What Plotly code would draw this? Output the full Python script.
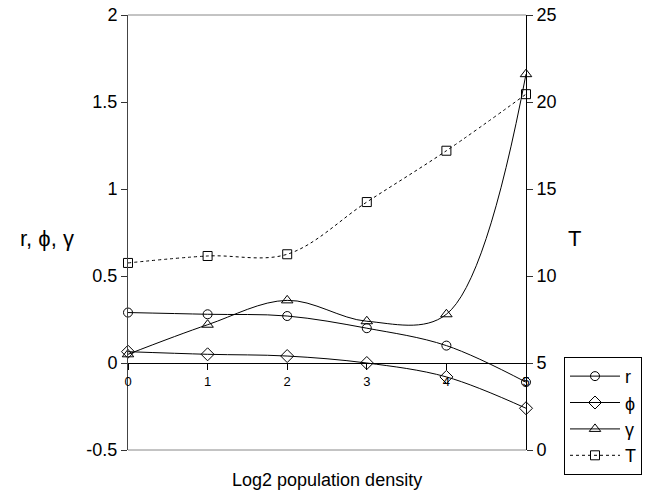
import plotly.graph_objects as go

x_vals = [0, 1, 2, 3, 4, 5]
r_vals = [0.29, 0.28, 0.27, 0.20, 0.10, -0.11]
phi_vals = [0.065, 0.05, 0.04, 0.0, -0.08, -0.26]
gamma_vals = [0.05, 0.22, 0.36, 0.24, 0.28, 1.66]
T_vals = [10.75, 11.15, 11.25, 14.25, 17.2, 20.45]

y_left_ticks = [-0.5, 0, 0.5, 1, 1.5, 2]
y_left_text = ["-0.5", "0", "0.5", "1", "1.5", "2"]
y_right_ticks = [0, 5, 10, 15, 20, 25]
x_ticks = [0, 1, 2, 3, 4, 5]

FONT = "Liberation Sans, Arial, sans-serif"
line = dict(color="black", width=1, shape="spline", smoothing=1)

fig = go.Figure()
fig.add_trace(go.Scatter(x=x_vals, y=r_vals, name="r", mode="lines+markers",
                         line=line, cliponaxis=False,
                         marker=dict(symbol="circle-open", size=9, color="black", line=dict(width=1))))
fig.add_trace(go.Scatter(x=x_vals, y=phi_vals, name="\u03d5", mode="lines+markers",
                         line=line, cliponaxis=False,
                         marker=dict(symbol="diamond-open", size=10, color="black", line=dict(width=1))))
fig.add_trace(go.Scatter(x=x_vals, y=gamma_vals, name="\u03b3", mode="lines+markers",
                         line=line, cliponaxis=False,
                         marker=dict(symbol="triangle-up-open", size=10, color="black", line=dict(width=1))))
fig.add_trace(go.Scatter(x=x_vals, y=T_vals, name="T", mode="lines+markers", yaxis="y2",
                         line=dict(color="black", width=1, dash="dot", shape="spline", smoothing=1),
                         cliponaxis=False,
                         marker=dict(symbol="square-open", size=9, color="black", line=dict(width=1))))

fig.update_layout(
    width=656, height=492,
    margin=dict(l=128, r=130, t=15, b=42, autoexpand=False),
    paper_bgcolor="white", plot_bgcolor="white",
    font=dict(family=FONT, color="black", size=18),
    showlegend=True,
    legend=dict(x=1.0955, y=0.214, xanchor="left", yanchor="top",
                bordercolor="black", borderwidth=1, bgcolor="white",
                font=dict(size=18, color="black"), tracegroupgap=0, itemwidth=50),
    xaxis=dict(range=[0, 5], tickvals=x_ticks, ticks="outside", ticklen=6,
               tickcolor="black", showline=True, linecolor="black", linewidth=1,
               showgrid=False, zeroline=False, anchor="free", position=0.2,
               tickfont=dict(size=13, color="black")),
    yaxis=dict(range=[-0.5, 2], tickvals=y_left_ticks, ticktext=y_left_text,
               ticks="outside", ticklen=6, tickcolor="#333", showline=True,
               linecolor="#444", linewidth=1, showgrid=False, zeroline=False,
               tickfont=dict(size=18, color="black")),
    yaxis2=dict(range=[0, 25], tickvals=y_right_ticks, overlaying="y", side="right",
                ticks="outside", ticklen=6, tickcolor="#333", showline=True,
                linecolor="black", linewidth=1, showgrid=False, zeroline=False,
                tickfont=dict(size=18, color="black")),
    shapes=[
        dict(type="line", xref="paper", yref="paper", x0=0, x1=1, y0=0, y1=0,
             line=dict(color="#888", width=1)),
        dict(type="line", xref="paper", yref="paper", x0=0, x1=1, y0=1, y1=1,
             line=dict(color="#888", width=1)),
    ],
    annotations=[
        dict(text="r, \u03d5, \u03b3", xref="paper", yref="paper", x=-0.2035, y=0.487,
             xanchor="center", yanchor="middle", showarrow=False, font=dict(size=22)),
        dict(text="T", xref="paper", yref="paper", x=1.123, y=0.487,
             xanchor="center", yanchor="middle", showarrow=False, font=dict(size=22)),
        dict(text="Log2 population density", xref="paper", yref="paper", x=0.5, y=-0.069,
             xanchor="center", yanchor="middle", showarrow=False, font=dict(size=18)),
    ],
)

fig.write_html("out.html", config={"displayModeBar": False},
               post_script="document.body.style.margin='0';")
